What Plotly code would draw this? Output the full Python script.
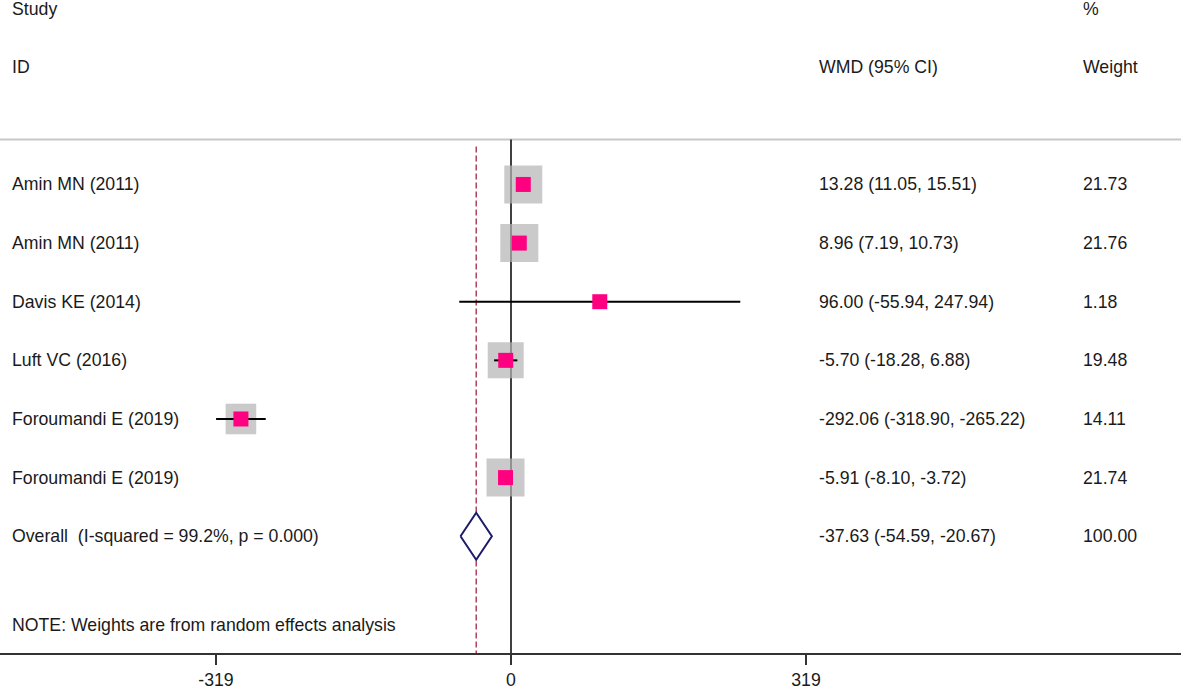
import plotly.graph_objects as go

# ---------------- data ----------------
studies = ["Amin MN (2011)", "Amin MN (2011)", "Davis KE (2014)", "Luft VC (2016)",
           "Foroumandi E (2019)", "Foroumandi E (2019)"]
es = [13.28, 8.96, 96.00, -5.70, -292.06, -5.91]
ci_lo = [11.05, 7.19, -55.94, -18.28, -318.90, -8.10]
ci_hi = [15.51, 10.73, 247.94, 6.88, -265.22, -3.72]
weights = [21.73, 21.76, 1.18, 19.48, 14.11, 21.74]

overall_label = "Overall  (I-squared = 99.2%, p = 0.000)"
overall_es = -37.63
overall_lo = -54.59
overall_hi = -20.67
overall_weight = 100.00

tick_vals = [-319, 0, 319]
tick_text = ["-319", "0", "319"]
note_text = "NOTE: Weights are from random effects analysis"

# ---------------- layout constants ----------------
W, H = 1181, 690
FONT = "Liberation Sans, Arial, sans-serif"
FS = 17.7
TXT = "#1a1a1a"
rows = list(range(len(studies)))
overall_row = len(studies)

k = 295 / 319.0           # px per unit
x_left = -511 / k
x_right = (W - 511) / k
row_px = 58.8
y_top = -185 / row_px
y_bot = (655 - 185) / row_px
header_y = (140 - 185) / row_px
dash_top = (147 - 185) / row_px
note_y = (627 - 185) / row_px

fig = go.Figure()

# grey weight boxes
max_w = max(weights)
box_sizes = [38 * (w / max_w) ** 0.5 for w in weights]
fig.add_trace(go.Scatter(
    x=es, y=rows, mode="markers",
    marker=dict(symbol="square", size=box_sizes, color="#b3b3b3", line=dict(width=0)),
    hoverinfo="skip", showlegend=False))

# CI lines
cx, cy = [], []
for lo, hi, r in zip(ci_lo, ci_hi, rows):
    cx += [lo, hi, None]
    cy += [r, r, None]
fig.add_trace(go.Scatter(x=cx, y=cy, mode="lines", line=dict(color="black", width=2),
                         hoverinfo="skip", showlegend=False))

# pink point estimates
fig.add_trace(go.Scatter(
    x=es, y=rows, mode="markers",
    marker=dict(symbol="square", size=15, color="#ff0080", line=dict(width=0)),
    hoverinfo="skip", showlegend=False))

# overall diamond
hh = 0.4
fig.add_trace(go.Scatter(
    x=[overall_lo, overall_es, overall_hi, overall_es, overall_lo],
    y=[overall_row, overall_row - hh, overall_row, overall_row + hh, overall_row],
    mode="lines", fill="toself", fillcolor="white",
    line=dict(color="#1c1c6b", width=2), hoverinfo="skip", showlegend=False))

# reference lines
shapes = [
    dict(type="line", xref="paper", yref="y", x0=0, x1=1, y0=header_y, y1=header_y,
         line=dict(color="#c8c8c8", width=2), layer="below"),
    dict(type="line", xref="x", yref="y", x0=0, x1=0, y0=header_y, y1=y_bot,
         line=dict(color="black", width=1.5), layer="below"),
    dict(type="line", xref="x", yref="y", x0=overall_es, x1=overall_es, y0=dash_top, y1=y_bot,
         line=dict(color="#a3283f", width=1.3, dash="6px,3px"), layer="below"),
]

# text annotations
ann = []
def add_text(x_px, y, text):
    ann.append(dict(x=(x_px - 2) / W, xref="paper", y=y, yref="y", text=text, showarrow=False,
                    xanchor="left", yanchor="middle",
                    font=dict(family=FONT, size=FS, color=TXT)))

add_text(12, -3, "Study")
add_text(12, -2, "ID")
add_text(819, -2, "WMD (95% CI)")
add_text(1083, -3, "%")
add_text(1083, -2, "Weight")
for name, e, lo, hi, w, r in zip(studies, es, ci_lo, ci_hi, weights, rows):
    add_text(12, r, name)
    add_text(819, r, f"{e:.2f} ({lo:.2f}, {hi:.2f})")
    add_text(1083, r, f"{w:.2f}")
add_text(12, overall_row, overall_label)
add_text(819, overall_row, f"{overall_es:.2f} ({overall_lo:.2f}, {overall_hi:.2f})")
add_text(1083, overall_row, f"{overall_weight:.2f}")
add_text(12, note_y, note_text)

fig.update_layout(
    width=W, height=H, margin=dict(l=0, r=0, t=0, b=0),
    paper_bgcolor="white", plot_bgcolor="white",
    shapes=shapes, annotations=ann, showlegend=False,
    xaxis=dict(range=[x_left, x_right], domain=[0, 1], showgrid=False, zeroline=False,
               showline=True, linecolor="#333333", linewidth=1.5,
               ticks="outside", ticklen=10, tickwidth=1.5, tickcolor="#333333",
               tickvals=tick_vals, ticktext=tick_text,
               tickfont=dict(family=FONT, size=FS, color=TXT), fixedrange=True),
    yaxis=dict(range=[y_bot, y_top], domain=[(H - 655) / H, 1], visible=False,
               showgrid=False, zeroline=False, fixedrange=True),
)

fig.write_html("out.html", config={"displayModeBar": False},
               post_script="document.body.style.margin='0';document.body.style.overflow='hidden';")
